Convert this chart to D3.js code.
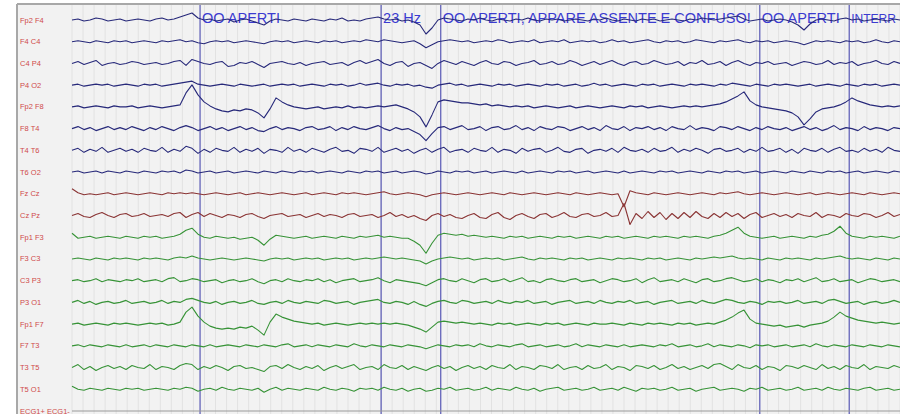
<!DOCTYPE html>
<html>
<head>
<meta charset="utf-8">
<script src="https://cdn.jsdelivr.net/npm/d3@7"></script>
<style>
  html, body { margin: 0; padding: 0; background: #ffffff; }
  svg { display: block; }
</style>
</head>
<body>
<svg id="eeg" width="900" height="414"></svg>
<script>
// Montage (bipolar chains), top to bottom
const channels = [
  "Fp2 F4", "F4 C4", "C4 P4", "P4 O2", "Fp2 F8", "F8 T4", "T4 T6", "T6 O2",
  "Fz Cz", "Cz Pz",
  "Fp1 F3", "F3 C3", "C3 P3", "P3 O1", "Fp1 F7", "F7 T3", "T3 T5", "T5 O1",
  "ECG1+ ECG1-"
];
// Chain group of each channel: right, midline, left, ecg
const groups = [
  "R", "R", "R", "R", "R", "R", "R", "R",
  "M", "M",
  "L", "L", "L", "L", "L", "L", "L", "L",
  "E"
];

// Page length in seconds and event markers (s) with their notes
const pageSeconds = 7.5;
const markerTimes = [1.16, 2.80, 3.34, 6.23, 7.04];
const markerNotes = ["OO APERTI", "23 Hz", "OO APERTI, APPARE ASSENTE E CONFUSO!", "OO APERTI", "INTERR"];

// Samples per channel, evenly spread over the page (amplitude, µV/5, up positive)
const fp2f4 = [0,1,-1,0,2,1,-1,0,1,-1, 0,1,0,-1,1,2,0,1,3,5, 7,2,0,1,-1,0,1,-2,0,1, -1,-3,-5,-1,1,0,-1,1,0,-1, 1,0,-1,1,0,2,-1,0,-1,1, 2,3,1,0,1,-1,0,-2,-5,-14, -8,0,2,1,0,-1,1,0,2,0, -1,1,0,-1,1,0,2,0,-1,1, 0,1,-1,0,1,0,-1,1,0,2, 0,-1,1,0,-1,1,0,1,-1,0, 1,0,-1,1,0,2,1,0,1,2, 3,4,1,-1,0,1,-1,0,1,0, -2,-5,-10,-4,0,1,0,-1,1,2, 0,1,-1,0,1,0,-1,1,0];
const f4c4 = [0,1,0,-1,1,0,-1,1,0,1, -1,0,1,0,-1,1,0,1,2,0, 1,-1,-2,0,1,0,1,-1,0,1, 0,-1,-2,0,1,0,1,-1,0,1, 0,-1,1,0,1,-1,0,1,0,2, 1,0,2,1,0,-1,0,1,-2,-6, -3,0,1,2,1,0,1,-1,0,1, 0,2,1,-1,0,1,0,2,-1,0, 1,0,2,-1,0,1,0,1,-1,0, 2,0,1,-1,0,1,2,0,-1,1, 0,1,-1,0,2,1,0,-1,1,0, 1,2,0,-1,1,0,1,-1,0,1, 0,-1,-3,-1,1,0,1,0,-1,1, 0,1,-1,0,2,0,-1,1,0];
const c4p4 = [0,2,-1,1,3,-2,0,1,-1,0, 2,1,-1,0,1,-1,0,2,3,-2, 4,2,0,-1,1,2,-3,-2,1,0, 2,-1,-4,0,1,2,0,-1,1,-2, 0,1,2,-1,0,1,-2,1,3,0, 2,4,0,-2,1,2,-3,0,1,-2, -5,0,3,1,-1,2,0,-2,1,3, 0,-1,2,1,-2,0,1,3,-1,0, 2,-1,0,3,1,-2,0,2,-1,1, 3,0,-2,1,2,-1,0,3,1,-1, 0,2,-2,1,0,3,-1,0,2,-2, 1,3,0,-2,1,0,2,-1,0,1, -2,0,2,1,-1,0,3,-1,1,0, 2,-2,0,1,3,0,-1,2,0];
const p4o2 = [0,1,-1,0,1,0,1,-1,0,1, 0,-1,1,0,1,-1,0,1,2,3, 4,1,0,-1,0,1,0,-1,1,0, -1,0,1,-1,0,1,0,1,-1,0, 1,0,-1,1,0,1,-1,0,2,0, 1,2,0,-1,1,0,1,-1,0,-2, -3,0,1,2,0,1,-1,0,1,0, -1,1,0,1,-1,0,1,0,-1,1, 0,1,-1,0,1,-1,0,2,0,1, -1,0,1,0,-1,1,0,1,-1,0, 1,0,-1,1,0,1,0,-1,1,0, 2,1,0,-1,1,0,-1,1,0,1, 0,-1,0,1,-1,0,1,0,-1,1, 0,-1,1,0,1,-1,0,1,0];
const fp2f8 = [0,1,-1,0,1,0,-1,1,0,0, 1,-1,0,1,0,-1,0,1,2,14, 22,12,5,1,-2,-4,-5,-3,-4,-2, -3,-6,-11,-2,9,5,2,0,-1,-2, -1,0,-2,-1,0,-1,1,-1,0,-1, 0,1,0,1,2,0,-2,-5,-10,-20, -8,5,7,6,5,4,4,3,2,3, 1,2,1,0,1,0,1,-1,0,1, 0,-1,0,1,-1,0,1,0,-1,0, 1,0,-1,1,0,1,-1,0,1,0, -1,0,1,0,1,0,1,2,3,5, 8,11,15,6,2,0,-1,-2,-3,-4, -6,-10,-18,-12,-5,-2,-1,0,2,5, 9,6,4,2,1,0,1,0,1];
const f8t4 = [0,2,-1,1,-2,0,2,-1,1,-1, 2,0,-2,1,-1,2,0,-2,1,3, 1,-2,0,2,-1,1,-2,0,2,-1, 1,-2,-3,0,2,-1,1,0,-2,1, 2,-1,0,2,-2,1,-1,2,0,-1, 1,3,0,-2,1,-1,0,-3,-6,-12, -5,1,2,-1,1,3,-1,0,2,-2, 1,2,-1,0,3,-1,1,-2,2,0, -1,2,1,-2,0,2,-1,1,-2,3, 0,-1,2,-2,1,0,2,-1,1,-2, 2,0,-1,3,-1,1,0,-2,2,1, -1,2,0,-2,1,-1,2,0,-1,1, -2,0,2,-1,1,-2,0,3,-1,1, 0,-2,2,-1,1,0,-2,1,0];
const t4t6 = [0,2,-2,1,-1,3,-2,0,2,-1, 1,-2,2,0,-1,3,-2,1,-1,4, 2,-3,1,-2,2,0,-1,3,-2,1, -1,2,-3,1,0,-2,3,-1,1,-2, 2,0,-2,1,3,-1,0,-3,2,1, -1,3,-2,0,2,-1,1,-3,0,2, -2,1,3,-2,0,1,-2,2,0,-1, 3,-2,1,0,-3,2,-1,1,2,-2, 0,3,-1,-2,1,2,-3,0,1,-1, 2,-2,3,0,-1,1,-2,2,-1,0, 3,-2,1,-1,2,0,-3,1,2,-1, 0,2,-2,1,-1,3,-1,0,2,-2, 1,-3,2,0,-1,2,-2,1,3,-1, 0,-2,2,-1,1,-2,3,0,-1];
const t6o2 = [0,1,-1,0,1,-1,1,0,-1,1, 0,-1,1,0,-1,1,0,1,-1,2, 1,-1,0,1,-1,0,1,-1,0,1, 0,-1,1,0,-1,1,0,-1,1,0, 1,-1,0,1,0,-1,1,0,-1,1, 0,1,-1,0,1,-1,0,1,0,-2, -1,1,0,-1,1,0,1,-1,0,1, -1,0,1,0,-1,1,-1,0,1,0, -1,1,0,1,-1,0,1,-1,0,1, 0,-1,1,-1,0,1,0,-1,1,0, 1,-1,0,1,0,-1,1,0,-1,1, 0,1,-1,0,1,-1,0,1,0,-1, 1,0,-1,1,0,-1,1,0,1,-1, 0,1,-1,0,1,0,-1,1,0];
const fzcz = [5,1,-1,0,-1,0,1,-1,0,1, 0,-1,0,1,0,-1,1,0,1,0, 1,0,-1,0,1,0,-1,0,1,-1, 0,1,0,-1,0,1,0,-1,0,1, -1,0,1,0,-1,1,0,1,0,-1, 0,1,2,0,-1,0,1,0,-1,-3, -1,0,1,0,-1,0,1,0,-1,0, 1,0,-1,1,0,-1,0,1,0,-1, 0,1,0,-1,1,0,-1,0,1,0, -1,0,-13,3,1,0,-1,1,0,-1, 0,1,0,-1,0,1,0,-1,1,0, 1,2,0,-1,0,1,0,-1,0,1, 0,-1,0,1,-1,0,1,0,-1,0, 1,0,-1,1,0,-1,0,1,0];
const czpz = [0,2,-1,-2,1,3,0,-2,1,2, -1,0,2,-1,0,1,-1,2,3,-2, 1,3,-1,2,0,-2,1,0,-2,1, 2,-1,-3,0,1,2,-1,0,1,-2, 0,2,-1,1,0,-2,1,2,-1,0, 1,-2,0,3,-1,1,-2,0,-3,-5, 0,2,-1,1,-2,-3,0,2,-2,-3, 1,3,-2,-4,0,2,-1,-3,1,2, -2,0,3,-1,-2,1,2,-1,0,3, -1,0,12,-9,2,-3,4,-2,3,-4, 2,-3,3,-2,4,-1,-3,2,-2,3, -1,2,-3,1,3,-2,0,2,-1,1, -2,2,0,-1,3,-2,1,0,-2,2, 0,-1,2,1,-2,0,3,-1,1];
const fp1f3 = [4,-1,0,1,-1,0,1,0,-1,1, 0,-1,1,0,1,-1,0,1,3,7, 9,3,0,-1,1,0,-1,0,-2,-1, 0,-3,-8,-2,2,1,0,-1,0,1, -1,0,1,0,-1,1,0,-1,1,0, 1,2,0,1,0,-1,-1,-4,-8,-16, -6,2,4,3,2,3,1,2,1,0, 1,0,-1,1,0,1,-1,0,1,0, -1,1,0,1,-1,0,1,0,-1,1, 0,1,-1,0,1,0,-1,1,0,1, 0,-1,1,0,1,0,-1,1,2,4, 7,10,4,1,0,-1,0,1,-1,0, 1,0,-1,1,0,2,3,6,11,4, 1,0,-1,1,0,1,0,-1,1];
const f3c3 = [0,1,0,-1,1,0,-1,1,0,1, 0,-1,1,0,1,0,-1,1,2,1, 3,1,0,-1,0,1,0,-1,0,1, 0,-1,-2,0,1,0,1,-1,0,1, 0,1,-1,0,1,0,1,-1,0,1, 0,1,2,1,0,1,0,-1,-2,-5, -2,0,1,2,1,0,1,-1,0,1, 0,1,-1,0,1,2,0,-1,1,0, 1,0,-1,1,0,1,-1,0,1,0, -1,1,0,1,0,-1,1,0,1,-1, 0,1,0,-1,1,0,1,2,1,2, 3,1,0,1,0,-1,1,0,-1,1, 0,1,0,-1,1,0,1,2,3,1, 0,1,0,-1,1,0,-1,1,0];
const c3p3 = [0,1,-1,0,2,-1,1,0,-1,1, 0,2,-1,0,1,-1,2,3,-1,0, 2,1,-1,0,1,-2,0,1,-1,0, 2,-1,-3,0,1,-1,2,0,-1,1, 0,2,-1,1,-2,0,1,2,-1,0, 1,3,0,-2,1,0,-1,-2,-3,-5, -2,1,2,0,-1,2,0,-2,1,2, -1,0,2,-1,1,3,-1,0,-2,1, 2,0,-1,1,2,-1,0,1,-2,0, 2,1,-1,0,2,-2,1,3,-1,0, 1,-1,2,0,-2,1,2,-1,0,2, 3,1,-1,0,2,-1,1,0,-2,1, 0,2,-1,1,3,-1,0,2,-1,0, 1,-2,0,2,1,-1,0,1,-1];
const p3o1 = [0,2,-1,1,-2,0,1,-1,0,2, -1,0,1,-1,0,2,-1,1,0,3, 4,2,0,-1,1,-2,0,1,-1,0, 2,-1,-2,0,1,-1,2,0,-1,1, 0,-1,2,1,-1,0,1,-2,0,1, 2,3,0,-1,1,0,-2,1,-2,-4, -1,1,2,0,-1,2,1,-1,0,1, -1,2,0,-1,1,0,2,-1,0,1, -2,0,1,2,-1,0,1,-1,2,0, -1,1,0,2,-1,0,1,-2,0,1, 2,-1,0,1,-1,2,0,-1,1,3, 2,0,-1,1,0,-2,1,0,1,-1, 0,2,-1,0,1,-1,2,3,1,-1, 0,1,-2,0,1,-1,0,2,0];
const fp1f7 = [0,1,-1,0,1,0,-1,1,0,1, 0,-1,0,1,0,1,-1,0,2,12, 17,8,2,-2,-4,-5,-4,-5,-3,-4, -2,-6,-11,2,10,7,5,3,2,1, 0,1,-1,0,1,0,-1,0,1,0, 1,0,1,0,1,0,-1,-3,-5,-8, -3,2,3,2,1,2,1,0,1,0, -1,1,0,1,-1,0,1,0,-1,1, 0,1,-1,0,1,0,-1,1,0,0, 1,0,-1,1,0,-1,1,0,1,0, -1,1,0,1,-1,0,1,0,2,4, 7,11,14,5,1,0,-1,-2,-1,-3, -2,-1,-3,-1,0,1,3,7,12,8, 6,4,3,2,1,2,1,0,1];
const f7t3 = [0,1,-1,1,0,-1,1,0,-1,1, -1,0,1,-1,1,0,-1,1,0,-1, 1,0,-1,1,-1,0,1,0,-1,1, 0,-1,1,0,-1,1,2,-1,0,1, -1,1,0,-1,1,0,-1,2,0,-1, 1,0,-1,1,0,-1,1,0,-1,-3, -1,1,0,-1,1,0,1,-1,2,0, -1,1,0,-1,1,2,-1,0,1,-1, 0,1,-1,0,2,-1,1,0,-1,1, 0,-1,1,-1,0,1,0,-1,1,0, 2,-1,0,1,-1,0,2,-1,1,0, -1,1,0,-2,1,0,1,-1,0,1, -1,0,1,-1,2,0,-1,1,0,-1, 1,0,-1,1,0,-1,1,0,-1];
const t3t5 = [0,3,-2,1,-3,0,2,-1,1,-2, 2,0,-1,3,-2,1,0,-2,2,4, 3,-2,1,-1,2,0,-3,1,2,-1, 0,-2,-4,1,2,-1,3,0,-2,1, -1,2,-3,0,2,-1,1,3,-2,0, 1,-2,3,0,-1,2,-2,1,-1,-3, 0,2,-1,1,-3,0,2,-1,1,-2, 2,0,-1,3,-2,1,0,-2,2,1, -1,3,-2,0,1,-2,2,-1,0,3, -2,1,0,-3,2,1,-1,2,-2,0, 3,-1,1,-2,0,2,-1,3,4,1, -2,3,0,-1,2,-2,1,0,-3,2, 1,-1,2,0,-2,3,-1,1,-2,2, 0,-1,3,-2,1,0,-1,2,0];
const t5o1 = [3,0,-1,1,0,-1,1,0,-1,1, 0,1,-1,0,1,0,-1,1,0,2, 1,-2,0,1,-1,2,0,-1,1,0, -1,1,-3,0,2,-1,1,0,-1,1, 0,-1,2,0,-1,1,0,-2,1,0, 1,-1,2,0,-1,1,-2,0,1,-2, -1,1,0,2,-1,0,1,-1,0,2, -1,1,0,-1,2,0,-1,1,-2,0, 1,2,-1,0,1,-1,0,2,-1,0, 1,-1,2,0,-2,1,0,1,-1,0, 2,-1,0,1,-2,0,1,2,-1,0, 1,0,-2,1,0,2,-1,0,1,-1, 0,2,-1,0,1,-1,2,0,-1,1, 0,-1,1,2,-1,0,1,-1,0];
const ecg1 = [0, 0];

const traces = [fp2f4, f4c4, c4p4, p4o2, fp2f8, f8t4, t4t6, t6o2,
                fzcz, czpz,
                fp1f3, f3c3, c3p3, p3o1, fp1f7, f7t3, t3t5, t5o1,
                ecg1];

const W = 900, H = 414;
const svg = d3.select("#eeg");

// Paper
svg.append("rect").attr("x", 17).attr("y", 4).attr("width", W - 17).attr("height", H - 4)
  .attr("fill", "#f2f2f2");

// Scales
const x = d3.scaleLinear().domain([0, pageSeconds]).range([72, 900]);
const row = d3.scalePoint().domain(channels).range([20, 411]);
const amp = d3.scaleLinear().domain([-10, 10]).range([10, -10]);
const color = d3.scaleOrdinal().domain(["R", "M", "L", "E"])
  .range(["#27297a", "#8a3434", "#379337", "#9a9a9a"]);

// Time grid, 0.1 s
const gridTicks = d3.range(0, pageSeconds + 1e-9, 0.1);
svg.append("g").selectAll("line").data(gridTicks).join("line")
  .attr("x1", d => x(d)).attr("x2", d => x(d))
  .attr("y1", 5).attr("y2", H)
  .attr("stroke", "#e2e2e2").attr("stroke-width", 1);

// Frame
svg.append("line").attr("x1", 17).attr("x2", W).attr("y1", 4).attr("y2", 4)
  .attr("stroke", "#a8a8a8").attr("stroke-width", 2);
svg.append("line").attr("x1", 17).attr("x2", 17).attr("y1", 4).attr("y2", H)
  .attr("stroke", "#a8a8a8").attr("stroke-width", 2);

// Channel labels
svg.append("g").selectAll("text").data(channels).join("text")
  .attr("x", 20).attr("y", d => row(d) + 2.5)
  .attr("font-family", "Liberation Sans, Arial, sans-serif")
  .attr("font-size", 7.5)
  .attr("fill", "#d04a4a")
  .text(d => d);

// Event markers
svg.append("g").selectAll("line").data(markerTimes).join("line")
  .attr("x1", d => x(d)).attr("x2", d => x(d))
  .attr("y1", 5).attr("y2", H)
  .attr("stroke", "#5858b4").attr("stroke-width", 1.2);

svg.append("g").selectAll("text").data(markerTimes).join("text")
  .attr("x", d => x(d) + 2).attr("y", 23)
  .attr("font-family", "Liberation Sans, Arial, sans-serif")
  .attr("fill", "#3b3bd0")
  .each(function (d) {
    // the last note runs to the page edge: keep it inside the sheet
    const room = 896 - (x(d) + 2);
    const sel = d3.select(this);
    if (room < 60) {
      sel.attr("font-size", 12.5).attr("textLength", room).attr("lengthAdjust", "spacingAndGlyphs");
    } else {
      sel.attr("font-size", 14.5);
    }
  })
  .text((d, i) => markerNotes[i]);

// Traces
const line = d3.line().curve(d3.curveLinear);
svg.append("g").selectAll("path").data(traces).join("path")
  .attr("d", (vals, ci) => {
    const y0 = row(channels[ci]);
    const n = vals.length;
    return line(vals.map((v, k) => [x(k / (n - 1) * pageSeconds), y0 + amp(v)]));
  })
  .attr("fill", "none")
  .attr("stroke", (vals, ci) => color(groups[ci]))
  .attr("stroke-width", 1.1)
  .attr("stroke-linejoin", "round");
</script>
</body>
</html>
